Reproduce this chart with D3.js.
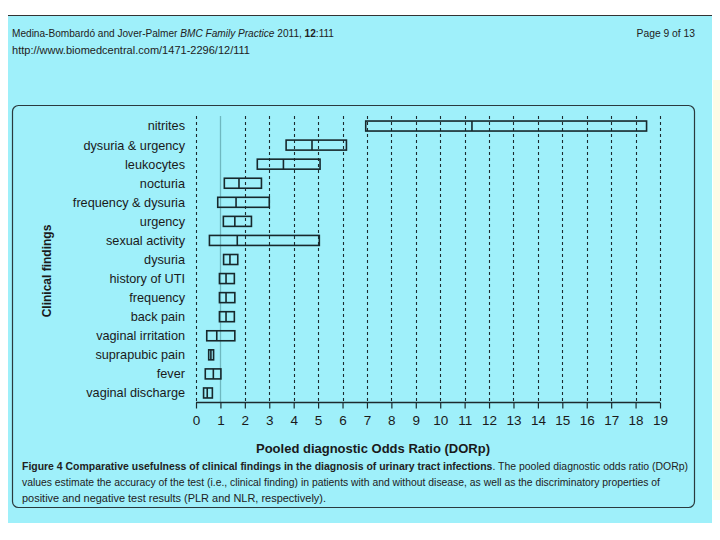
<!DOCTYPE html>
<html><head><meta charset="utf-8">
<script src="https://cdn.jsdelivr.net/npm/d3@7"></script>
<style>html,body{margin:0;padding:0;background:#fff;}svg{display:block;}</style>
</head><body>
<svg id="chart" width="720" height="540"></svg>
<script>
const categories = ["nitrites","dysuria & urgency","leukocytes","nocturia","frequency & dysuria","urgency","sexual activity","dysuria","history of UTI","frequency","back pain","vaginal irritation","suprapubic pain","fever","vaginal discharge"];
const lowerCI = [6.95, 3.69, 2.51, 1.16, 0.89, 1.12, 0.55, 1.13, 0.96, 0.96, 0.96, 0.44, 0.52, 0.38, 0.31];
const pooledDOR = [11.3, 4.75, 3.58, 1.76, 1.64, 1.59, 1.69, 1.39, 1.23, 1.23, 1.23, 0.85, 0.61, 0.71, 0.46];
const upperCI = [18.45, 6.16, 5.08, 2.68, 3.0, 2.27, 5.05, 1.71, 1.57, 1.59, 1.57, 1.59, 0.72, 1.02, 0.67];
const xTicks = d3.range(0, 20);

(function(){
const svg = d3.select("#chart");
const bg = "#9ff0fa";
const ff = "Liberation Sans, Arial, sans-serif";
// page background
svg.append("rect").attr("x",0).attr("y",0).attr("width",720).attr("height",540).attr("fill","#fff");
svg.append("rect").attr("x",713).attr("y",80).attr("width",7).attr("height",420).attr("fill","#fffbe6");
svg.append("rect").attr("x",8).attr("y",15).attr("width",704).attr("height",508).attr("fill",bg);
svg.append("line").attr("x1",8).attr("x2",712).attr("y1",15.5).attr("y2",15.5).attr("stroke","#333").attr("stroke-width",1);

// header
const hdr = svg.append("text").attr("x",12).attr("y",37).attr("font-family",ff).attr("font-size",10.3).attr("fill","#222").attr("textLength",322).attr("lengthAdjust","spacingAndGlyphs");
hdr.append("tspan").text("Medina-Bombardó and Jover-Palmer ");
hdr.append("tspan").attr("font-style","italic").text("BMC Family Practice");
hdr.append("tspan").text(" 2011, ");
hdr.append("tspan").attr("font-weight","bold").text("12");
hdr.append("tspan").text(":111");
svg.append("text").attr("x",12).attr("y",54).attr("font-family",ff).attr("font-size",10.3).attr("fill","#222").attr("textLength",238).attr("lengthAdjust","spacingAndGlyphs").text("http://www.biomedcentral.com/1471-2296/12/111");
svg.append("text").attr("x",695).attr("y",37).attr("text-anchor","end").attr("font-family",ff).attr("font-size",10.3).attr("fill","#222").text("Page 9 of 13");

// panel
svg.append("rect").attr("x",12.5).attr("y",105.5).attr("width",682).attr("height",402).attr("rx",6).attr("fill","none").attr("stroke","#2a3a3e").attr("stroke-width",1.2);

// scales
const x = d3.scaleLinear().domain([0,19]).range([196,660]);
const y = d3.scaleBand().domain(categories).range([116.5,402.5]).paddingInner(0).paddingOuter(0);
const plotTop = 116, axisY = 402.5;

// gridlines
svg.append("g").selectAll("line").data(xTicks).join("line")
  .attr("x1",d=>Math.round(x(d))+0.5).attr("x2",d=>Math.round(x(d))+0.5)
  .attr("y1",plotTop).attr("y2",axisY)
  .attr("stroke",d=>d===1?"#6fb8c0":"#1c2a2e")
  .attr("stroke-width",d=>d===1?1.3:1.1)
  .attr("stroke-dasharray",d=>d===1?null:"3,3");

// axis
const axis = d3.axisBottom(x).tickValues(xTicks).tickSize(6).tickPadding(7).tickFormat(d3.format("d"));
const ag = svg.append("g").attr("transform",`translate(0,${axisY})`).call(axis);
ag.select(".domain").attr("stroke","#1c2a2e").attr("stroke-width",1.3).attr("d",`M${x(0)},0H${x(19)}`);
ag.selectAll(".tick line").attr("stroke","#1c2a2e").attr("stroke-width",1.2);
ag.selectAll(".tick text").attr("font-family",ff).attr("font-size",13.5).attr("fill","#1a1a1a");

// category labels
svg.append("g").selectAll("text").data(categories).join("text")
  .attr("x",185).attr("y",d=>y(d)+y.bandwidth()/2).attr("dy","0.35em")
  .attr("text-anchor","end").attr("font-family",ff).attr("font-size",12.7).attr("fill","#1a1a1a")
  .text(d=>d);

// boxes
const bh = 10;
const boxes = svg.append("g").selectAll("g").data(categories).join("g");
boxes.append("rect")
  .attr("x",(d,i)=>x(lowerCI[i])).attr("width",(d,i)=>x(upperCI[i])-x(lowerCI[i]))
  .attr("y",d=>y(d)+y.bandwidth()/2-bh/2).attr("height",bh)
  .attr("fill","none").attr("stroke","#17282c").attr("stroke-width",1.6);
boxes.append("line")
  .attr("x1",(d,i)=>x(pooledDOR[i])).attr("x2",(d,i)=>x(pooledDOR[i]))
  .attr("y1",d=>y(d)+y.bandwidth()/2-bh/2).attr("y2",d=>y(d)+y.bandwidth()/2+bh/2)
  .attr("stroke","#17282c").attr("stroke-width",1.6);

// axis titles
svg.append("text").attr("x",373).attr("y",453).attr("text-anchor","middle").attr("font-family",ff).attr("font-weight","bold").attr("font-size",13).attr("fill","#1a1a1a").text("Pooled diagnostic Odds Ratio (DORp)");
svg.append("text").attr("transform","translate(51,271) rotate(-90)").attr("text-anchor","middle").attr("font-family",ff).attr("font-weight","bold").attr("font-size",12).attr("fill","#1a1a1a").text("Clinical findings");

// caption
const c1 = svg.append("text").attr("x",22).attr("y",470).attr("font-family",ff).attr("font-size",10).attr("fill","#222").attr("textLength",666).attr("lengthAdjust","spacingAndGlyphs");
c1.append("tspan").attr("font-weight","bold").text("Figure 4 Comparative usefulness of clinical findings in the diagnosis of urinary tract infections");
c1.append("tspan").text(". The pooled diagnostic odds ratio (DORp)");
svg.append("text").attr("x",22).attr("y",486).attr("font-family",ff).attr("font-size",10).attr("fill","#222").attr("textLength",638).attr("lengthAdjust","spacingAndGlyphs").text("values estimate the accuracy of the test (i.e., clinical finding) in patients with and without disease, as well as the discriminatory properties of");
svg.append("text").attr("x",22).attr("y",502).attr("font-family",ff).attr("font-size",10).attr("fill","#222").attr("textLength",304).attr("lengthAdjust","spacingAndGlyphs").text("positive and negative test results (PLR and NLR, respectively).");
})();
</script>
</body></html>
